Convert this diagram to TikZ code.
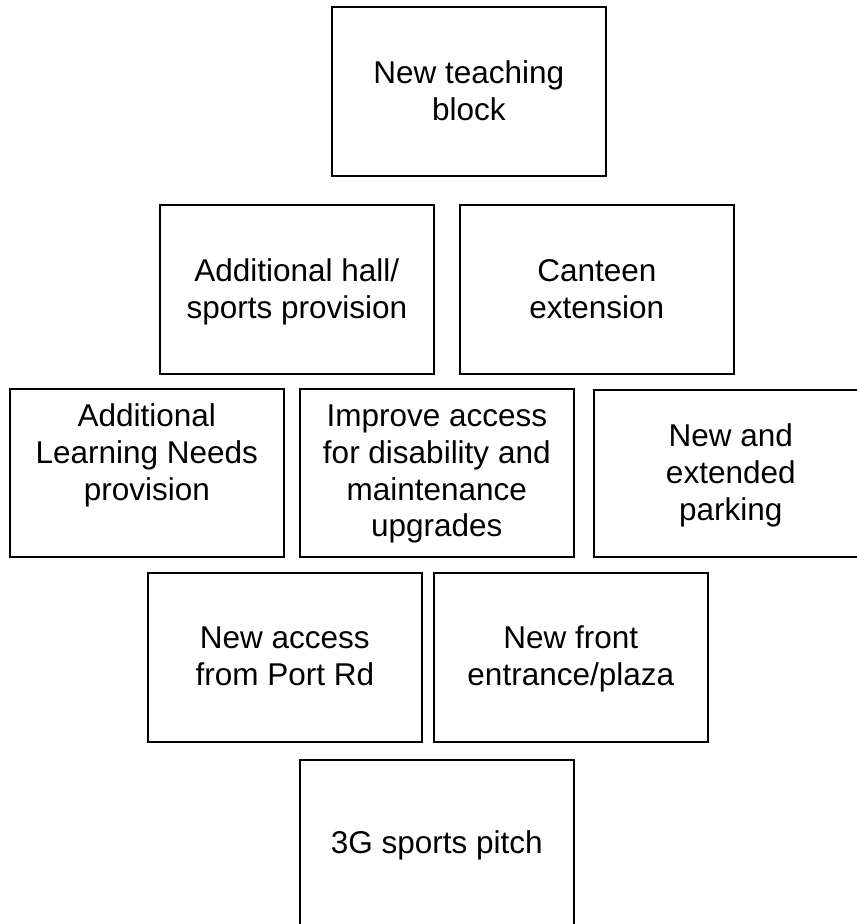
\documentclass[tikz,border=0pt]{standalone}
\usepackage{fontspec}
\setmainfont{Liberation Sans}
\usetikzlibrary{positioning}

\tikzset{
  site/.style={draw, line width=1.6pt, minimum width=274pt, minimum height=169pt,
               inner sep=0pt, anchor=north west},
  sitetext/.style={align=center, inner sep=0pt, anchor=north,
                   font=\fontsize{31.5}{36.7}\selectfont}
}

\begin{document}
\begin{tikzpicture}[x=1pt,y=-1pt]
\useasboundingbox (0,0) rectangle (857,924);
\clip (0,0) rectangle (857,924);

\node[site] (teach) at (331,6) {};
\node[site] (hall) at (159,204) {};
\node[site] (canteen) at (459,204) {};
\node[site, minimum height=168pt] (aln) at (9,388) {};
\node[site, minimum height=168pt] (access) at (299,388) {};
\node[site, minimum height=167pt] (parking) at (593,389) {};
\node[site] (port) at (147,572) {};
\node[site] (plaza) at (433,572) {};
\node[site] (pitch) at (299,759) {};

\node[sitetext, below=51.6pt of teach.north] (teachtxt) {\strut New teaching\\block};
\node[sitetext, below=52pt of hall.north] (halltxt) {\strut Additional hall/\\sports provision};
\node[sitetext, below=52pt of canteen.north] (canteentxt) {\strut Canteen\\extension};
\node[sitetext, below=13pt of aln.north] (alntxt) {\strut Additional\\Learning Needs\\provision};
\node[sitetext, below=13pt of access.north] (accesstxt) {\strut Improve access\\for disability and\\maintenance\\upgrades};
\node[sitetext, below=32pt of parking.north] (parkingtxt) {\strut New and\\extended\\parking};
\node[sitetext, below=50.6pt of port.north] (porttxt) {\strut New access\\from Port Rd};
\node[sitetext, below=50.6pt of plaza.north] (plazatxt) {\strut New front\\entrance/plaza};
\node[sitetext, below=69pt of pitch.north] (pitchtxt) {\strut 3G sports pitch};

\end{tikzpicture}
\end{document}
